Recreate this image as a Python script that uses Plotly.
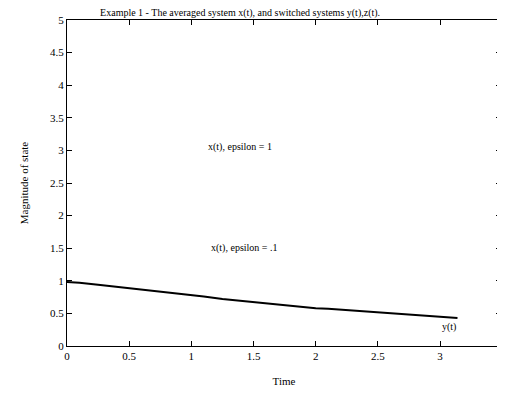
import plotly.graph_objects as go

# Data (time vs magnitude of state)
time = [0.0, 0.1, 0.25, 0.4, 0.5, 0.6, 0.75, 0.9, 1.0, 1.1, 1.25, 1.4, 1.5, 1.6, 1.75, 1.9, 2.0, 2.1, 2.25, 2.4, 2.5, 2.6, 2.75, 2.9, 3.0, 3.14]
state = [0.98, 0.97, 0.94, 0.91, 0.89, 0.86, 0.83, 0.80, 0.78, 0.76, 0.72, 0.69, 0.67, 0.65, 0.62, 0.59, 0.58, 0.57, 0.55, 0.53, 0.52, 0.51, 0.49, 0.47, 0.46, 0.43]

x_ticks = [0, 0.5, 1, 1.5, 2, 2.5, 3]
y_ticks = [0, 0.5, 1, 1.5, 2, 2.5, 3, 3.5, 4, 4.5, 5]

labels = ["x(t), epsilon = 1", "x(t), epsilon = .1", "y(t)"]
label_x = [1.39, 1.42, 3.07]
label_y = [3.05, 1.5, 0.29]

FONT = "Liberation Serif"

fig = go.Figure()
fig.add_trace(go.Scatter(x=time, y=state, mode="lines",
                         line=dict(color="black", width=2), showlegend=False))

for t, lx, ly in zip(labels, label_x, label_y):
    fig.add_annotation(x=lx, y=ly, text=t, showarrow=False,
                       font=dict(family=FONT, size=10, color="black"))

axis_common = dict(showline=True, linecolor="black", linewidth=1, mirror="ticks",
                   ticks="inside", ticklen=5, tickcolor="black", showgrid=False,
                   zeroline=False, automargin=False,
                   tickfont=dict(family=FONT, size=11, color="black"))

fig.update_layout(
    width=497, height=387,
    margin=dict(l=59, r=4, t=12, b=49),
    paper_bgcolor="white", plot_bgcolor="white",
    title=dict(text="Example 1 - The averaged system x(t), and switched systems y(t),z(t).",
               x=0.467, xanchor="center", y=0.988, yanchor="middle", automargin=False,
               font=dict(family=FONT, size=10, color="black")),
    xaxis=dict(range=[0, 3.49], tickvals=x_ticks, ticktext=[str(v) for v in x_ticks],
               title=dict(text="Time", font=dict(family=FONT, size=11, color="black"), standoff=16),
               **axis_common),
    yaxis=dict(range=[0, 5], tickvals=y_ticks, ticktext=[str(v) for v in y_ticks],
               title=dict(text="Magnitude of state", font=dict(family=FONT, size=11, color="black"), standoff=19),
               **axis_common),
)

fig.write_html("out.html")
